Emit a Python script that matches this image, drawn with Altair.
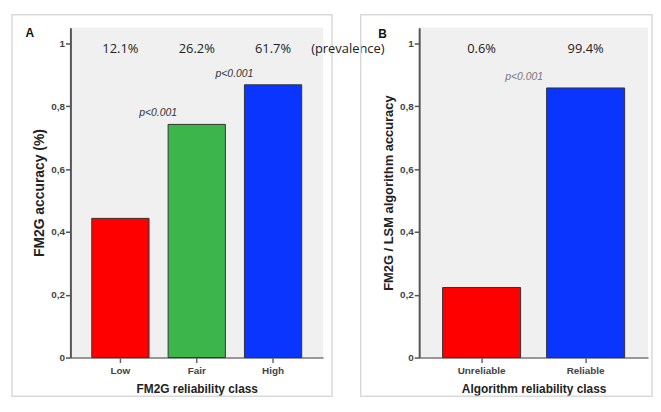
import altair as alt
import pandas as pd

# Panel A data
a_classes = ["Low", "Fair", "High"]
a_acc = [0.443, 0.742, 0.868]
a_prev = ["12.1%", "26.2%", "61.7%"]
a_colors = ["#ff0000", "#3cb64b", "#0a35ff"]
a_p = ["", "p<0.001", "p<0.001"]

# Panel B data
b_classes = ["Unreliable", "Reliable"]
b_acc = [0.223, 0.858]
b_prev = ["0.6%", "99.4%"]
b_colors = ["#ff0000", "#0a35ff"]
b_p = ["", "p<0.001"]

y_ticks = [0, 0.2, 0.4, 0.6, 0.8, 1]

FONT = "Liberation Sans"
PLOT_H = 333


def one_row():
    return alt.Chart(pd.DataFrame({"k": [0]}))


def panel(classes, acc, prev, colors, pvals, ytitle, xtitle, letter, width,
          pcolor, pdx, pouter, letter_xy, border_x2, ytitle_size, extra=None):
    df = pd.DataFrame({"cls": classes, "acc": acc, "prev": prev,
                       "color": colors, "p": pvals})
    base = alt.Chart(df)
    x = alt.X("cls:N", sort=classes,
              scale=alt.Scale(paddingInner=0.25, paddingOuter=pouter),
              axis=alt.Axis(title=xtitle, labelAngle=0, labelFont=FONT,
                            labelFontWeight="bold", labelFontSize=10,
                            labelColor="#444", labelPadding=3,
                            tickSize=5, tickColor="#666", tickWidth=1.5,
                            domainColor="#777", domainWidth=1.5,
                            titleFont=FONT, titleFontWeight="bold",
                            titleFontSize=12, titleColor="#222",
                            titlePadding=8))
    y = alt.Y("acc:Q", scale=alt.Scale(domain=[0, 1.05], nice=False),
              axis=alt.Axis(title=ytitle, values=y_ticks,
                            labelExpr="replace(toString(datum.value), '.', ',')",
                            labelFont=FONT, labelFontWeight="bold",
                            labelFontSize=10, labelColor="#444",
                            labelPadding=1, tickSize=5, tickColor="#555",
                            tickWidth=1.5, domainColor="#555", domainWidth=2,
                            grid=False, titleFont=FONT, titleFontWeight="bold",
                            titleFontSize=ytitle_size, titleColor="#222",
                            titlePadding=4))
    bars = base.mark_bar(stroke="#333", strokeWidth=1).encode(
        x=x, y=y, color=alt.Color("color:N", scale=None))
    prev_t = base.mark_text(font="Open Sans", fontSize=13, color="#222",
                            baseline="middle").encode(
        x=alt.X("cls:N", sort=classes), y=alt.value(22), text="prev:N")
    p_t = base.mark_text(font=FONT, fontStyle="italic", fontSize=10.5,
                         color=pcolor, dx=pdx, dy=-11,
                         baseline="middle").encode(
        x=alt.X("cls:N", sort=classes), y="acc:Q", text="p:N")
    letter_t = one_row().mark_text(font=FONT, fontWeight="bold", fontSize=12,
                                   color="#111").encode(
        x=alt.value(letter_xy[0]), y=alt.value(letter_xy[1]),
        text=alt.value(letter))
    border = one_row().mark_rect(fill="transparent", stroke="#d9d9d9",
                                 strokeWidth=1.5).encode(
        x=alt.value(-59), x2=alt.value(border_x2),
        y=alt.value(-13), y2=alt.value(372))
    layers = [border, bars, prev_t, p_t, letter_t]
    if extra is not None:
        layers.append(extra)
    return alt.layer(*layers).properties(width=width, height=PLOT_H)


prev_label = one_row().mark_text(font="Open Sans", fontSize=13, color="#222",
                                 align="left", baseline="middle").encode(
    x=alt.value(243), y=alt.value(22), text=alt.value("(prevalence)"))

chart_a = panel(a_classes, a_acc, a_prev, a_colors, a_p,
                "FM2G accuracy (%)", "FM2G reliability class", "A", 255,
                "#333", -39, 0.28, (-41, 5), 264, 14, extra=prev_label)
chart_b = panel(b_classes, b_acc, b_prev, b_colors, b_p,
                "FM2G / LSM algorithm accuracy", "Algorithm reliability class",
                "B", 231, "#777", -62, 0.225, (-37, 6), 235, 13)

chart = alt.hconcat(chart_a, chart_b, spacing=97, bounds="flush").properties(
    padding={"left": 3, "top": 4, "right": 0, "bottom": 0},
    background="white",
).configure_view(fill="#f0f0f0", strokeWidth=0)

chart.save("out.html", embed_options={"renderer": "svg", "actions": False})
